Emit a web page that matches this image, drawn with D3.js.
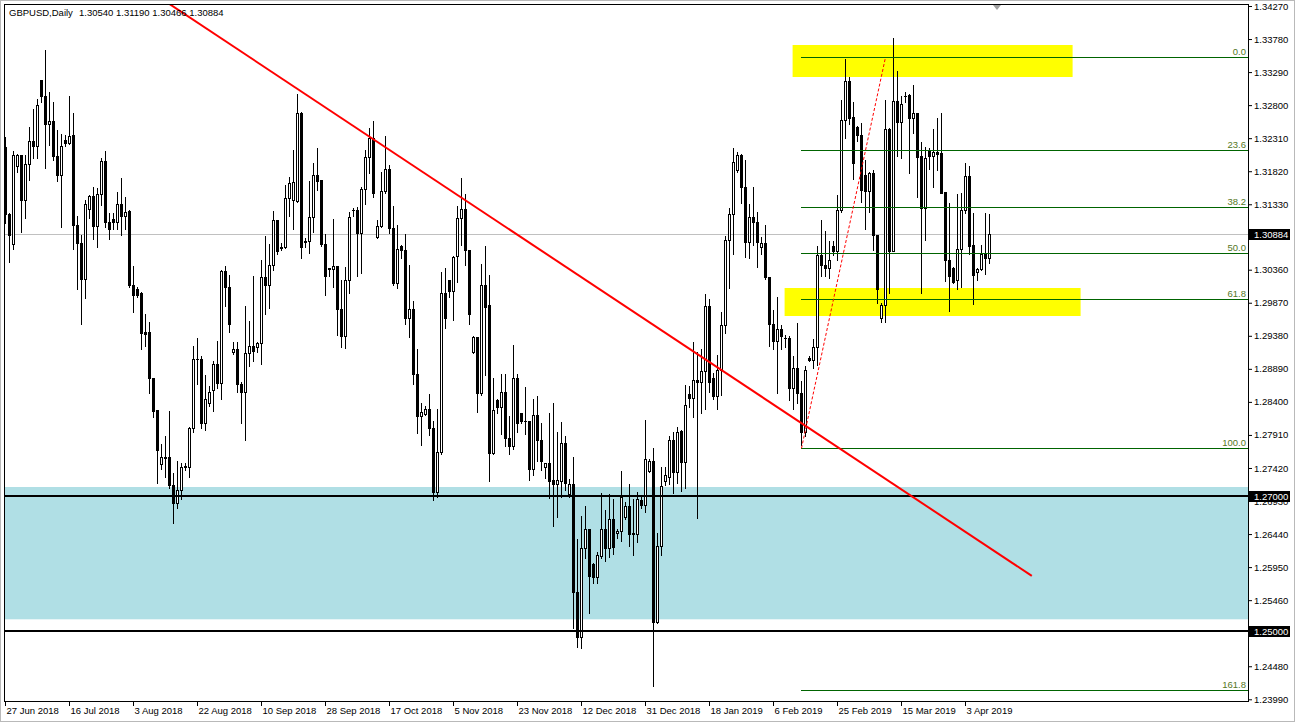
<!DOCTYPE html>
<html><head><meta charset="utf-8">
<script src="https://cdn.jsdelivr.net/npm/d3@7"></script>
<style>
body{margin:0;background:#fff;overflow:hidden}
svg{display:block}
text{font-family:"Liberation Sans",Arial,sans-serif;font-size:9.5px}
</style></head><body>
<svg id="c" width="1296" height="725"></svg>
<script>
// ---------------- DATA ----------------
const symbol = "GBPUSD,Daily";
const opens = [1.3218,1.3118,1.3074,1.3190,1.3206,1.3140,1.3193,1.3227,1.3220,1.3318,
1.3294,1.3252,1.3256,1.3205,1.3176,1.3228,1.3224,1.3235,1.3103,1.3075,
1.3022,1.3126,1.3145,1.3101,1.3148,1.3197,1.3107,1.3111,1.3107,1.3134,
1.3116,1.3123,1.3014,1.3008,1.3001,1.2943,1.2943,1.2876,1.2828,1.2748,
1.2759,1.2758,1.2717,1.2690,1.2710,1.2744,1.2744,1.2802,1.2903,1.2903,
1.2808,1.2838,1.2857,1.2896,1.2868,1.3034,1.3010,1.2914,1.2919,1.2866,
1.2855,1.2912,1.2923,1.2921,1.2927,1.3025,1.3014,1.3043,1.3110,1.3069,
1.3069,1.3143,1.3139,1.3138,1.3268,1.3079,1.3078,1.3114,1.3177,1.3169,
1.3074,1.3039,1.3037,1.3041,1.2977,1.2938,1.3021,1.3124,1.3125,1.3090,
1.3156,1.3203,1.3232,1.3084,1.3101,1.3153,1.3186,1.3098,1.3017,1.3071,
1.3065,1.2964,1.2977,1.2882,1.2819,1.2822,1.2829,1.2801,1.2706,1.2765,
1.3001,1.3020,1.3004,1.3056,1.3112,1.3126,1.3065,1.2914,1.2936,1.2853,
1.3013,1.2984,1.2764,1.2843,1.2832,1.2854,1.2786,1.2774,1.2875,1.2823,
1.2812,1.2812,1.2741,1.2820,1.2783,1.2743,1.2750,1.2724,1.2718,1.2722,
1.2779,1.2703,1.2718,1.2558,1.2491,1.2623,1.2652,1.2600,1.2581,1.2612,
1.2652,1.2624,1.2666,1.2645,1.2648,1.2670,1.2686,1.2645,1.2644,1.2695,
1.2687,1.2738,1.2753,1.2513,1.2626,1.2723,1.2729,1.2783,1.2736,1.2797,
1.2751,1.2851,1.2846,1.2872,1.2869,1.2886,1.2982,1.2875,1.2849,1.2888,
1.2954,1.3080,1.3118,1.3184,1.3206,1.3158,1.3077,1.3114,1.3106,1.3070,
1.3075,1.3025,1.2955,1.2931,1.2948,1.2934,1.2934,1.2861,1.2890,1.2853,
1.2796,1.2905,1.2902,1.2921,1.3058,1.3043,1.3038,1.3071,1.3063,1.3125,
1.3258,1.3316,1.3262,1.3247,1.3236,1.3176,1.3153,1.3179,1.3088,1.2964,
1.2984,1.3244,1.3063,1.3286,1.3255,1.3293,1.3295,1.3261,1.3268,1.3204,
1.3128,1.3212,1.3204,1.3210,1.3209,1.3151,1.3051,1.3038,1.3021,1.3066,
1.3124,1.3175,1.3073,1.3032,1.3037,1.3059,1.30540];
const highs = [1.3233,1.3120,1.3212,1.3208,1.3206,1.3206,1.3247,1.3274,1.3289,1.3318,
1.3362,1.3300,1.3284,1.3243,1.3237,1.3236,1.3293,1.3268,1.3116,1.3088,
1.3140,1.3147,1.3159,1.3157,1.3201,1.3212,1.3120,1.3120,1.3151,1.3172,
1.3144,1.3125,1.3042,1.3011,1.3003,1.2971,1.2958,1.2876,1.2828,1.2778,
1.2789,1.2826,1.2734,1.2752,1.2749,1.2749,1.2803,1.2923,1.2935,1.2908,
1.2880,1.2864,1.2900,1.2930,1.3036,1.3042,1.3028,1.2929,1.2929,1.2870,
1.2982,1.2960,1.3027,1.2929,1.3050,1.3086,1.3074,1.3123,1.3110,1.3075,
1.3162,1.3173,1.3214,1.3297,1.3270,1.3083,1.3167,1.3194,1.3216,1.3169,
1.3089,1.3039,1.3111,1.3042,1.3021,1.3040,1.3122,1.3127,1.3129,1.3158,
1.3214,1.3246,1.3257,1.3109,1.3181,1.3234,1.3191,1.3130,1.3102,1.3073,
1.3089,1.3043,1.2990,1.2918,1.2839,1.2834,1.2851,1.2812,1.2829,1.3032,
1.3039,1.3021,1.3056,1.3130,1.3172,1.3148,1.3065,1.2937,1.2936,1.3045,
1.3071,1.3028,1.2875,1.2844,1.2882,1.2881,1.2819,1.2925,1.2881,1.2823,
1.2862,1.2812,1.2845,1.2849,1.2808,1.2750,1.2823,1.2838,1.2796,1.2810,
1.2789,1.2725,1.2758,1.2636,1.2671,1.2686,1.2652,1.2601,1.2618,1.2705,
1.2680,1.2704,1.2696,1.2651,1.2738,1.2692,1.2718,1.2696,1.2706,1.2699,
1.2813,1.2755,1.2771,1.2646,1.2744,1.2743,1.2789,1.2796,1.2803,1.2799,
1.2865,1.2864,1.2929,1.2914,1.2919,1.3000,1.2992,1.2883,1.2909,1.2974,
1.3086,1.3127,1.3216,1.3210,1.3208,1.3199,1.3134,1.3158,1.3121,1.3085,
1.3102,1.3025,1.2976,1.2995,1.2954,1.2939,1.2937,1.2908,1.2957,1.2871,
1.2893,1.2908,1.2933,1.3071,1.3109,1.3093,1.3079,1.3078,1.3147,1.3287,
1.3348,1.3321,1.3284,1.3249,1.3253,1.3198,1.3181,1.3184,1.3088,1.2986,
1.3288,1.3246,1.3379,1.3330,1.3294,1.3300,1.3297,1.3310,1.3268,1.3226,
1.3218,1.3216,1.3244,1.3261,1.3268,1.3151,1.3135,1.3040,1.3148,1.3149,
1.3194,1.3190,1.3120,1.3038,1.3073,1.3120,1.31190];
const lows = [1.3105,1.3048,1.3067,1.3181,1.3092,1.3113,1.3169,1.3201,1.3201,1.3284,
1.3187,1.3221,1.3198,1.3168,1.3100,1.3219,1.3223,1.3066,1.3008,1.2956,
1.2994,1.3112,1.3081,1.3070,1.3132,1.3099,1.3081,1.3096,1.3096,1.3088,
1.3097,1.3011,1.2974,1.2996,1.2918,1.2923,1.2853,1.2817,1.2720,1.2740,
1.2728,1.2712,1.2660,1.2683,1.2696,1.2739,1.2728,1.2796,1.2866,1.2801,
1.2798,1.2834,1.2827,1.2860,1.2844,1.2982,1.2944,1.2911,1.2854,1.2808,
1.2784,1.2893,1.2900,1.2914,1.2896,1.2970,1.2979,1.3036,1.3059,1.3065,
1.3068,1.3116,1.3096,1.3137,1.3054,1.3069,1.3061,1.3092,1.3154,1.3071,
1.2998,1.3027,1.3010,1.2939,1.2922,1.2920,1.3001,1.3115,1.3026,1.3031,
1.3134,1.3180,1.3144,1.3083,1.3100,1.3150,1.3090,1.3013,1.3009,1.3054,
1.2955,1.2936,1.2866,1.2794,1.2776,1.2820,1.2791,1.2694,1.2699,1.2763,
1.2950,1.2996,1.2962,1.3018,1.3072,1.3043,1.2956,1.2913,1.2825,1.2850,
1.2880,1.2722,1.2763,1.2823,1.2793,1.2775,1.2763,1.2770,1.2796,1.2808,
1.2793,1.2724,1.2732,1.2752,1.2739,1.2727,1.2697,1.2656,1.2670,1.2699,
1.2709,1.2699,1.2504,1.2477,1.2475,1.2608,1.2527,1.2571,1.2572,1.2608,
1.2604,1.2610,1.2615,1.2638,1.2633,1.2667,1.2627,1.2613,1.2632,1.2682,
1.2677,1.2736,1.2419,1.2512,1.2613,1.2717,1.2718,1.2705,1.2719,1.2708,
1.2713,1.2833,1.2817,1.2668,1.2823,1.2830,1.2855,1.2845,1.2829,1.2850,
1.2942,1.3009,1.3060,1.3181,1.3135,1.3055,1.3053,1.3073,1.3040,1.3060,
1.3022,1.2923,1.2919,1.2853,1.2918,1.2922,1.2843,1.2830,1.2839,1.2776,
1.2789,1.2901,1.2890,1.2895,1.3026,1.3026,1.3023,1.3058,1.3050,1.3121,
1.3232,1.3252,1.3170,1.3227,1.3137,1.3096,1.3122,1.3065,1.2987,1.2959,
1.2959,1.3002,1.3063,1.3205,1.3201,1.3285,1.3180,1.3239,1.3144,1.3002,
1.3080,1.3186,1.3158,1.3184,1.3149,1.3019,1.2975,1.3016,1.3008,1.3011,
1.3120,1.3060,1.2985,1.3021,1.3036,1.3029,1.30466];
const closes = [1.3119,1.3087,1.3206,1.3206,1.3140,1.3193,1.3227,1.3220,1.3280,1.3293,
1.3252,1.3256,1.3204,1.3176,1.3220,1.3224,1.3234,1.3103,1.3075,1.3022,
1.3133,1.3145,1.3101,1.3148,1.3197,1.3106,1.3096,1.3107,1.3134,1.3116,
1.3122,1.3013,1.2999,1.2998,1.2942,1.2941,1.2876,1.2827,1.2768,1.2759,
1.2757,1.2717,1.2690,1.2710,1.2744,1.2745,1.2802,1.2903,1.2904,1.2808,
1.2845,1.2855,1.2896,1.2868,1.3034,1.3010,1.2955,1.2919,1.2866,1.2855,
1.2912,1.2923,1.2916,1.2927,1.3025,1.3014,1.3043,1.3110,1.3064,1.3068,
1.3143,1.3164,1.3166,1.3268,1.3069,1.3077,1.3114,1.3177,1.3168,1.3074,
1.3027,1.3037,1.3042,1.2977,1.2938,1.3021,1.3114,1.3125,1.3091,1.3156,
1.3203,1.3232,1.3150,1.3101,1.3153,1.3186,1.3098,1.3017,1.3066,1.3065,
1.2964,1.2977,1.2882,1.2819,1.2825,1.2829,1.2801,1.2706,1.2765,1.3001,
1.2964,1.3004,1.3055,1.3112,1.3126,1.3065,1.2971,1.2936,1.2853,1.3013,
1.2981,1.2764,1.2828,1.2832,1.2854,1.2786,1.2774,1.2875,1.2809,1.2811,
1.2811,1.2740,1.2820,1.2783,1.2752,1.2750,1.2723,1.2718,1.2724,1.2779,
1.2719,1.2718,1.2558,1.2491,1.2623,1.2651,1.2582,1.2581,1.2613,1.2652,
1.2624,1.2666,1.2625,1.2648,1.2699,1.2686,1.2644,1.2644,1.2696,1.2687,
1.2756,1.2753,1.2513,1.2626,1.2715,1.2732,1.2783,1.2736,1.2796,1.2751,
1.2836,1.2846,1.2872,1.2869,1.2886,1.2982,1.2870,1.2849,1.2888,1.2954,
1.3080,1.3118,1.3195,1.3206,1.3158,1.3077,1.3114,1.3106,1.3077,1.3075,
1.3025,1.2955,1.2931,1.2948,1.2937,1.2935,1.2861,1.2890,1.2853,1.2796,
1.2887,1.2902,1.2921,1.3058,1.3043,1.3038,1.3051,1.3063,1.3125,1.3258,
1.3316,1.3261,1.3194,1.3235,1.3154,1.3153,1.3179,1.3088,1.3007,1.2984,
1.3244,1.3063,1.3286,1.3255,1.3281,1.3294,1.3261,1.3268,1.3203,1.3128,
1.3202,1.3204,1.3210,1.3207,1.3150,1.3051,1.3026,1.3018,1.3066,1.3124,
1.3175,1.3071,1.3028,1.3037,1.3059,1.3053,1.30884];

const dateLabels = ["27 Jun 2018","16 Jul 2018","3 Aug 2018","22 Aug 2018","10 Sep 2018","28 Sep 2018",
  "17 Oct 2018","5 Nov 2018","23 Nov 2018","12 Dec 2018","31 Dec 2018","18 Jan 2019","6 Feb 2019",
  "25 Feb 2019","15 Mar 2019","3 Apr 2019"];
const dateLabelBars = [0,16,32,48,64,80,96,112,128,144,160,176,192,208,224,240];
// 1.30840 sits fully under the bid-price box in the reference, so it is not listed
const priceTicks = [1.34270,1.33780,1.33290,1.32800,1.32310,1.31820,1.31330,1.30360,1.29870,
  1.29380,1.28890,1.28400,1.27910,1.27420,1.26930,1.26440,1.25950,1.25460,1.24970,1.24480,1.23990];
const priceMin = 1.23990, priceMax = 1.34270;
const totalBars = 311;

const hLines = [1.27000, 1.25000];
const blueZone = {top: 1.27138, bottom: 1.25176};
const yellowZones = [
  {bar0: 196.9, bar1: 266.9, top: 1.33692, bottom: 1.33217},
  {bar0: 194.9, bar1: 268.9, top: 1.30088, bottom: 1.29673}
];
const trendLine = {bar0: 35, price0: 1.3454, bar1: 256.7, price1: 1.2582};
const fibLow = {bar: 199, price: 1.27712};
const fibHigh = {bar: 220, price: 1.33509};
const fibLevels = [0, 23.6, 38.2, 50, 61.8, 100, 161.8];
const shiftBar = 248;

// ---------------- DRAW ----------------
const svg = d3.select("#c");
const W = 1296, H = 725;
const plotL = 4, plotT = 4, plotR = 1248, plotB = 701;
const n = closes.length;
const bid = closes[n-1];

const x = d3.scaleLinear().domain([0, totalBars]).range([5, 5 + 4*totalBars]);
const y = d3.scaleLinear().domain([priceMin, priceMax]).range([699.3, 6]);
const ry = p => Math.round(y(p));

svg.append("rect").attr("width", W).attr("height", H).attr("fill", "#fff");
svg.append("rect").attr("x",0.5).attr("y",0.5).attr("width",1294).attr("height",721)
  .attr("fill","none").attr("stroke","#b9b9b9");

svg.append("defs").append("clipPath").attr("id","clip").append("rect")
  .attr("x", plotL+1).attr("y", plotT+1).attr("width", plotR-plotL-1).attr("height", plotB-plotT-1);
const g = svg.append("g").attr("clip-path","url(#clip)");

// blue zone
g.append("rect").attr("x", plotL).attr("width", plotR-plotL)
  .attr("y", y(blueZone.top)).attr("height", y(blueZone.bottom)-y(blueZone.top))
  .attr("fill", "#b0dfe5");

// yellow zones
g.selectAll("rect.yz").data(yellowZones).join("rect").attr("class","yz")
  .attr("x", d => x(d.bar0)).attr("width", d => x(d.bar1)-x(d.bar0))
  .attr("y", d => ry(d.top)).attr("height", d => ry(d.bottom)-ry(d.top))
  .attr("fill", "#ffff00");

// bid line
g.append("rect").attr("x", plotL).attr("width", plotR-plotL).attr("y", ry(bid)).attr("height",1).attr("fill","#c0c0c0");

// candles
const candles = d3.range(n).map(i => ({i, o: opens[i], h: highs[i], l: lows[i], c: closes[i]}));
const cg = g.append("g");
candles.forEach(d => {
  const cx = Math.round(x(d.i));
  const yh = ry(d.h), yl = ry(d.l), yo = ry(d.o), yc = ry(d.c);
  cg.append("rect").attr("x", cx).attr("y", yh).attr("width", 1).attr("height", Math.max(1, yl-yh+1)).attr("fill","#000");
  const top = Math.min(yo, yc), bot = Math.max(yo, yc);
  cg.append("rect").attr("x", cx-1).attr("y", top).attr("width", 3).attr("height", bot-top+1).attr("fill","#000");
  if (d.c > d.o && bot-top >= 2) {
    cg.append("rect").attr("x", cx).attr("y", top+1).attr("width", 1).attr("height", bot-top-1).attr("fill","#fff");
  }
});

// horizontal lines
g.selectAll("rect.hl").data(hLines).join("rect").attr("class","hl")
  .attr("x", plotL).attr("width", plotR-plotL).attr("y", d => ry(d)-1).attr("height", 2).attr("fill","#000");

// fibonacci
const fibPrice = lv => fibHigh.price - lv/100*(fibHigh.price - fibLow.price);
const fx0 = Math.round(x(Math.min(fibLow.bar, fibHigh.bar)));
g.selectAll("rect.fib").data(fibLevels).join("rect").attr("class","fib")
  .attr("x", fx0).attr("width", plotR - fx0).attr("y", d => ry(fibPrice(d))).attr("height", 1)
  .attr("fill", "#006400");
g.selectAll("text.fib").data(fibLevels).join("text").attr("class","fib")
  .attr("x", plotR-2).attr("y", d => ry(fibPrice(d)) - 2).attr("text-anchor","end")
  .attr("fill", "#55781e").text(d => d.toFixed(1));
g.append("line")
  .attr("x1", x(fibLow.bar)+0.5).attr("y1", y(fibLow.price))
  .attr("x2", x(fibHigh.bar)+0.5).attr("y2", y(fibHigh.price))
  .attr("stroke","#ff0000").attr("stroke-width",1).attr("stroke-dasharray","3,2");

// title
svg.append("text").attr("x", 9).attr("y", 16).attr("fill","#000").text(symbol);
svg.append("text").attr("x", 79).attr("y", 16).attr("fill","#000")
  .text([opens[n-1], highs[n-1], lows[n-1], closes[n-1]].map(v => v.toFixed(5)).join(" "));

// trend line
g.append("line")
  .attr("x1", x(trendLine.bar0)).attr("y1", y(trendLine.price0))
  .attr("x2", x(trendLine.bar1)).attr("y2", y(trendLine.price1))
  .attr("stroke","#ff0000").attr("stroke-width",2);

// frame
svg.append("rect").attr("x", plotL+0.5).attr("y", plotT+0.5).attr("width", plotR-plotL).attr("height", plotB-plotT)
  .attr("fill","none").attr("stroke","#000");

// price axis
const yAxis = d3.axisRight(y).tickValues(priceTicks).tickSize(4).tickPadding(2).tickFormat(d3.format(".5f"));
const ya = svg.append("g").attr("transform", `translate(${plotR},0)`).call(yAxis);
ya.select(".domain").remove();
ya.selectAll("line").attr("stroke","#000");
ya.selectAll("text").attr("fill","#000").style("font-size","9.5px").style("font-family",'"Liberation Sans",Arial,sans-serif');

// date axis
const xAxis = d3.axisBottom(x).tickValues(dateLabelBars).tickSize(5).tickPadding(1)
  .tickFormat((d, i) => dateLabels[i]);
const xa = svg.append("g").attr("transform", `translate(0,${plotB})`).call(xAxis);
xa.select(".domain").remove();
xa.selectAll("line").attr("stroke","#000");
xa.selectAll("text").attr("text-anchor","start").attr("x", 1).attr("fill","#000")
  .style("font-size","9.5px").style("font-family",'"Liberation Sans",Arial,sans-serif');

// price boxes
const boxes = hLines.concat([bid]);
svg.selectAll("rect.pb").data(boxes).join("rect").attr("class","pb")
  .attr("x", plotR+1).attr("y", d => ry(d)-5).attr("width", 41).attr("height", 11).attr("fill","#000");
svg.selectAll("text.pb").data(boxes).join("text").attr("class","pb")
  .attr("x", plotR+6).attr("y", d => ry(d)+3.5).attr("fill","#fff").text(d => d.toFixed(5));

// chart shift marker
const sx = x(shiftBar);
svg.append("path").attr("d", `M${sx-4},${plotT+1}L${sx+4},${plotT+1}L${sx},${plotT+6}Z`).attr("fill","#a0a0a0");
</script>
</body></html>
